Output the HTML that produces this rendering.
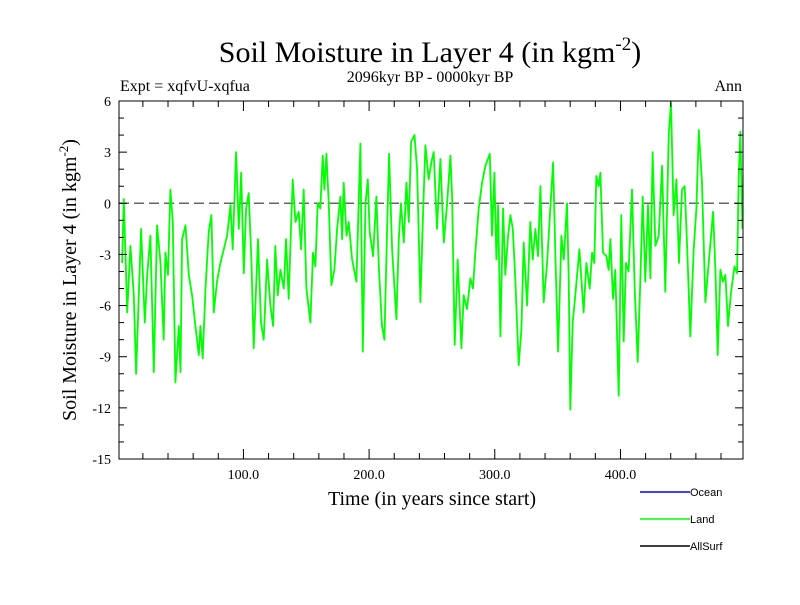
<!DOCTYPE html>
<html><head><meta charset="utf-8"><style>
body{margin:0;background:#fff;width:800px;height:600px;overflow:hidden}
text{font-family:"Liberation Serif",serif;fill:#000}
</style></head><body>
<svg id="chart" width="800" height="600" xmlns="http://www.w3.org/2000/svg">
<text x="430" y="62" font-size="30" text-anchor="middle">Soil Moisture in Layer 4 (in kgm<tspan font-size="19" dy="-12">-2</tspan><tspan dy="12">)</tspan></text>
<text x="430" y="82" font-size="16" text-anchor="middle">2096kyr BP - 0000kyr BP</text>
<text x="120" y="91" font-size="16">Expt = xqfvU-xqfua</text>
<text x="742" y="91" font-size="16" text-anchor="end">Ann</text>
<text transform="translate(76,280) rotate(-90)" font-size="20" text-anchor="middle">Soil Moisture in Layer 4 (in kgm<tspan font-size="13" dy="-8">-2</tspan><tspan dy="8">)</tspan></text>
<text x="432" y="505" font-size="20" text-anchor="middle">Time (in years since start)</text>
<g id="plot"></g>
<g>
<line x1="640" y1="492" x2="690" y2="492" stroke="#0000ff" stroke-width="1.5"/>
<text x="690" y="496" font-size="11" style="font-family:'Liberation Sans',sans-serif">Ocean</text>
<line x1="640" y1="519" x2="690" y2="519" stroke="#00ff00" stroke-width="1.5"/>
<text x="690" y="523" font-size="11" style="font-family:'Liberation Sans',sans-serif">Land</text>
<line x1="640" y1="546" x2="690" y2="546" stroke="#000" stroke-width="1.5"/>
<text x="690" y="550" font-size="11" style="font-family:'Liberation Sans',sans-serif">AllSurf</text>
</g>
</svg>
<script>
const years = [3.5,4.8,7.5,10.1,12.8,14.6,18.6,21.5,23.4,26,28.7,31.3,34,36.6,37.9,40,41.9,43.8,45.9,48.6,49.9,51.2,53.9,56.5,59.2,61.8,64.5,65.8,67.6,69.8,72.4,74.5,76.4,79,81.7,84.4,87,89.7,91.5,94.2,96.3,98.2,100.3,102.1,104.2,106.4,108.2,111.6,114,116.1,118.8,
121.5,123.6,125.4,127.3,129.4,132.1,133.9,136,137.4,139.2,141.4,144,145.9,148,150.1,153.3,155.4,157.3,159.1,161.2,163.1,164.4,166,167.9,170,172.4,174.5,177.2,178.5,179.8,182,183.8,186.5,189.9,193.1,195,197.1,199,200.5,203.2,205.8,207.7,210.3,212.2,214.3,215.9,218.3,221.7,223.6,225.4,227.6,229.7,231.6,233.4,236.1,238.2,240.8,243,
244.8,247.4,249.5,251.4,254,256.7,259.4,262,264.7,266,268.1,270.5,273.4,275.3,277.9,280.6,282.7,284.5,287.2,289.9,292.5,296,297.8,299.7,301.3,302.6,304.5,306.6,308.4,310.6,312.4,314.3,316.4,319,321.2,323,325.7,328.3,330.2,332.3,334.4,336.3,338.9,341.6,344.3,346.4,348.2,350.4,353,354.9,357.5,358.8,360.1,362,364.1,367.3,
370.7,372.9,375.5,377.4,379.2,380.8,382.7,384,386.1,388.8,390.6,392,394.1,395.9,398.6,400.7,402.6,404.4,406.5,409.2,411.3,413.7,415.8,417.7,419.8,421.9,423.8,425.6,427.8,430.4,433.1,435.7,438.4,440.2,442.3,444.5,446.6,449,451.1,453,455.6,458.3,460.4,462.3,464.9,467.6,470.2,473.7,475.5,477.4,479.5,481.6,483.5,485.6,488,490.7,492.8,494.1,495.4,497];
const landValues = [-3.5,0.25,-6.4,-2.5,-5.4,-10,-1.5,-7,-4.2,-1.9,-9.9,-1.3,-3.5,-8,-2.9,-4.2,0.8,-1.1,-10.5,-7.2,-9.9,-2.1,-1.3,-4.2,-5.4,-7.2,-8.9,-7.2,-9.1,-5,-1.7,-0.7,-6.4,-4.6,-3.5,-2.7,-1.9,-0.1,-2.7,3,-1.5,1.8,-4.1,-0.3,0.6,-3.5,-8.5,-2.1,-7,-8,-3.3,
-6,-7.2,-2.5,-5.4,-3.9,-5,-2.1,-5.6,-2.5,1.4,-1.1,-0.5,-2.7,0.8,-5,-7,-2.9,-3.7,0,-0.3,2.8,0.8,2.9,-0.1,-4.8,-3.9,-1.5,0.4,-2.1,1.2,-1.9,-1.1,-3.3,-4.6,3.5,-8.7,0,1.4,-1.7,-3.1,0.4,-3.7,-7.2,-8,-1.5,2.9,-2.7,-6.8,-2.1,0,-2.3,1.2,-1.1,3.6,4,2,-5.8,-0.5,
3.4,1.4,2.4,3,-1.5,2.6,-2.3,-0.1,2.8,0.4,-8.3,-3.3,-8.5,-5.4,-6.2,-4.4,-5,-2.9,-0.3,1.2,2.2,2.9,-1.9,1.8,-3.3,-0.1,-7.8,-0.3,-4.2,-1.9,-0.7,-1.5,-4.6,-9.5,-7.4,-2.3,-6,-1.1,-3.3,-1.5,-3.1,1,-5.8,-3.5,-0.1,2.4,-3.1,-8.7,-1.9,-3.3,0,-4.4,-12.1,-7,-5.4,-2.7,
-6.4,-3.5,-5,-2.9,-3.5,1.6,1,1.8,-2.9,-3.1,-3.9,-2.1,-5.6,-3.9,-11.3,-0.7,-8.1,-3.5,-4,0.8,-5,-9.3,-4.6,0.4,-4.6,-0.1,-4.4,3,-2.5,-1.9,2.2,-5.2,4,5.9,-0.7,1.4,-3.5,0.8,1,-2.5,-7.8,-2.7,-0.3,4.3,1.2,-5.8,-3.5,-0.5,-3.9,-8.9,-3.9,-4.6,-4.2,-7.2,-5.2,-3.7,-4.1,1.6,4.2,-1.5];
const yTicks = [-15,-12,-9,-6,-3,0,3,6];
const xTicks = [100,200,300,400];
const xDomain = [1, 497.5];
const yDomain = [-15, 6];
const L=119,R=743,T=101,B=459;
const sx = v => L + (v - xDomain[0]) / (xDomain[1] - xDomain[0]) * (R - L);
const sy = v => B - (v - yDomain[0]) / (yDomain[1] - yDomain[0]) * (B - T);
const NS='http://www.w3.org/2000/svg';
const g=document.getElementById('plot');
function mk(tag, attrs){const e=document.createElementNS(NS,tag);for(const k in attrs)e.setAttribute(k,attrs[k]);g.appendChild(e);return e;}
const z=mk('line',{x1:L,x2:R,y1:sy(0),y2:sy(0),stroke:'#666','stroke-width':1.5,'stroke-dasharray':'10,5'});


const pts=years.map((y,i)=>sx(y).toFixed(1)+','+sy(landValues[i]).toFixed(1)).join(' ');
const line=mk('polyline',{points:pts,fill:'none',stroke:'#00ff00','stroke-width':1.8,'stroke-linejoin':'round'});


const fr=mk('rect',{x:L,y:T,width:R-L,height:B-T,fill:'none',stroke:'#000','stroke-width':1});


for(let v=yDomain[0]; v<=yDomain[1]; v++){
  const major = yTicks.includes(v);
  const len = major?8:5;
  const t1=mk('line',{x1:L,x2:L+len,y1:sy(v),y2:sy(v),stroke:'#000'});
  
  
  const t2=mk('line',{x1:R,x2:R-len,y1:sy(v),y2:sy(v),stroke:'#000'});
  
  
}
yTicks.forEach(v=>{
  const t=mk('text',{x:L-8,y:sy(v)+5,'font-size':14,'text-anchor':'end'});
  t.textContent=v;
  
  
});
for(let v=20; v<xDomain[1]; v+=20){
  const major = xTicks.includes(v);
  const len = major?10:6;
  const t1=mk('line',{x1:sx(v),x2:sx(v),y1:B,y2:B-len,stroke:'#000'});
  
  
  const t2=mk('line',{x1:sx(v),x2:sx(v),y1:T,y2:T+len,stroke:'#000'});
  
  
}
xTicks.forEach(v=>{
  const t=mk('text',{x:sx(v),y:B+20,'font-size':14,'text-anchor':'middle'});
  t.textContent=v.toFixed(1);
  
  
});
</script>
</body></html>
